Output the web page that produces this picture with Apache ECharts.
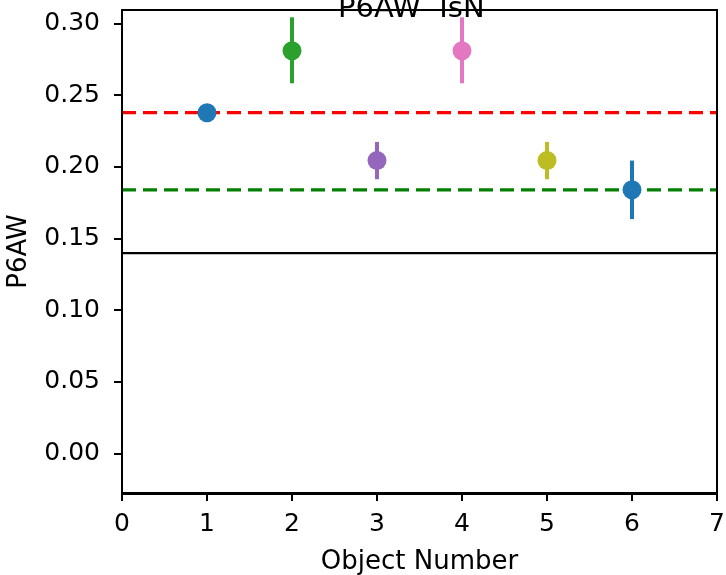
<!DOCTYPE html>
<html>
<head>
<meta charset="utf-8">
<script src="https://cdn.jsdelivr.net/npm/echarts@6/dist/echarts.min.js"></script>
<style>html,body{margin:0;padding:0;background:#fff;}#c{width:726px;height:575px;}</style>
</head>
<body>
<div id="c"></div>
<script>
const titleText = 'P6AW  IsN';
const xLabel = 'Object Number';
const yLabel = 'P6AW';
const objectNumbers = [1, 2, 3, 4, 5, 6];
const p6awValues = [0.2377, 0.2809, 0.2043, 0.2809, 0.2043, 0.1839];
const errLow = [0.2362, 0.2582, 0.1913, 0.2582, 0.1913, 0.1635];
const errHigh = [0.2392, 0.3042, 0.2173, 0.3042, 0.2173, 0.2043];
const pointColors = ['#1f77b4', '#2ca02c', '#9467bd', '#e377c2', '#bcbd22', '#1f77b4'];
const refLineValues = [0.2377, 0.1839, 0.1398];
const refLineColors = ['#ff0000', '#008000', '#000000'];
const refLineDashed = [true, true, false];
const yTickValues = [0.00, 0.05, 0.10, 0.15, 0.20, 0.25, 0.30];
const xRange = [0, 7];
const yRange = [-0.0275, 0.3093];

const font = 'DejaVu Sans';
const chart = echarts.init(document.getElementById('c'), null, {renderer: 'canvas'});

const series = [];
refLineValues.forEach((v, i) => {
  series.push({
    type: 'line',
    data: [[xRange[0], v], [xRange[1], v]],
    showSymbol: false,
    silent: true,
    z: 1,
    lineStyle: {color: refLineColors[i], width: refLineDashed[i] ? 3.2 : 2.2,
      type: refLineDashed[i] ? [14, 7] : 'solid'}
  });
});
series.push({
  type: 'custom',
  z: 2,
  data: objectNumbers.map((x, i) => [x, errLow[i], errHigh[i], i]),
  renderItem: function (params, api) {
    const a = api.coord([api.value(0), api.value(1)]);
    const b = api.coord([api.value(0), api.value(2)]);
    return {type: 'line', shape: {x1: a[0], y1: a[1], x2: b[0], y2: b[1]},
      style: {stroke: pointColors[api.value(3)], lineWidth: 4}};
  }
});
series.push({
  type: 'scatter',
  z: 3,
  symbolSize: 19,
  data: objectNumbers.map((x, i) => ({value: [x, p6awValues[i]], itemStyle: {color: pointColors[i], opacity: 1}}))
});

chart.setOption({
  animation: false,
  backgroundColor: '#fff',
  title: {text: titleText, left: 333, top: -10, textStyle: {fontFamily: font, fontSize: 29, fontWeight: 'normal', color: '#000'}},
  grid: {left: 122, right: 9, top: 10, bottom: 82, containLabel: false, outerBoundsMode: 'none'},
  xAxis: {
    type: 'value', min: xRange[0], max: xRange[1], interval: 1,
    name: xLabel, nameLocation: 'middle', nameGap: 56,
    nameTextStyle: {fontFamily: font, fontSize: 26, color: '#000'},
    axisLine: {show: true, onZero: false, lineStyle: {color: '#000', width: 2}},
    axisTick: {show: true, length: 8, lineStyle: {color: '#000', width: 2}},
    axisLabel: {fontFamily: font, fontSize: 25, color: '#000', margin: 19},
    splitLine: {show: false}
  },
  yAxis: {
    type: 'value', min: yRange[0], max: yRange[1],
    name: yLabel, nameLocation: 'middle', nameGap: 90,
    nameTextStyle: {fontFamily: font, fontSize: 26, color: '#000'},
    axisLine: {show: true, onZero: false, lineStyle: {color: '#000', width: 2}},
    axisTick: {show: true, length: 8, customValues: yTickValues, lineStyle: {color: '#000', width: 2}},
    axisLabel: {fontFamily: font, fontSize: 25, color: '#000', margin: 22, customValues: yTickValues,
      formatter: v => v.toFixed(2)},
    splitLine: {show: false}
  },
  graphic: [{
    type: 'rect', shape: {x: 122, y: 10, width: 595, height: 484}, silent: true, z: 100,
    style: {fill: 'none', stroke: '#000', lineWidth: 2}
  }],
  series: series
});
</script>
</body>
</html>
